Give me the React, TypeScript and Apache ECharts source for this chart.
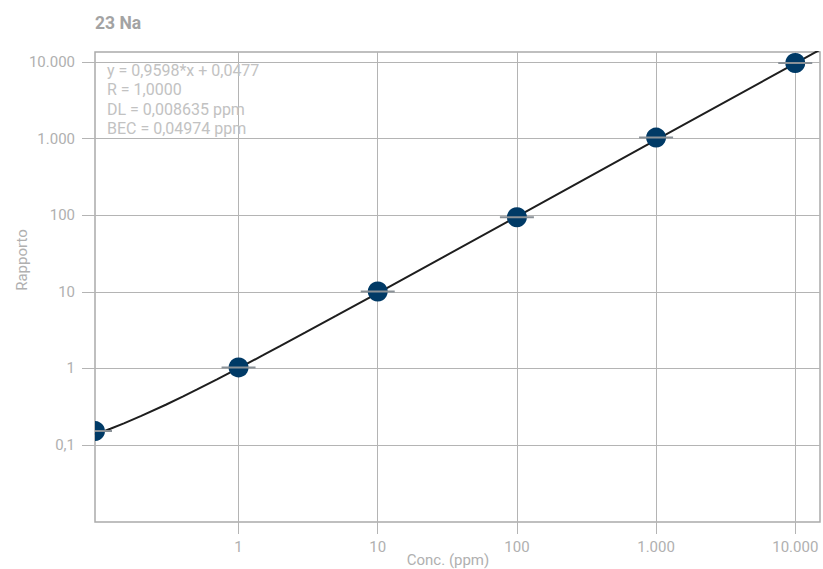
import React, { useEffect, useRef } from 'react';
import * as echarts from 'echarts';

const chartTitle = '23 Na';
const statLines = ['y = 0,9598*x + 0,0477', 'R = 1,0000', 'DL = 0,008635 ppm', 'BEC = 0,04974 ppm'];
const xAxisName = 'Conc. (ppm)';
const yAxisName = 'Rapporto';
const xTicks = [1, 10, 100, 1000, 10000];
const yTicks = [0.1, 1, 10, 100, 1000, 10000];
const xRange = [0.093, 15060];
const yRange = [0.0099, 13500];

// calibration standards (blank plotted at the axis minimum)
const conc = [0.093, 1, 10, 100, 1000, 10000];
const ratio = [0.152, 1.03, 10.1, 94, 1030, 9700];

// calibration curve y = 0,9598*x + 0,0477 sampled points
const curveX = [0.093, 0.12, 0.15, 0.2, 0.3, 0.4, 0.5, 0.7, 1, 1.5, 2, 3, 5, 10, 30, 100, 1000, 10000, 15060];
const curveY = [0.137, 0.163, 0.192, 0.24, 0.336, 0.432, 0.528, 0.72, 1.008, 1.487, 1.967, 2.927, 4.847, 9.646, 28.84, 96.03, 959.8, 9598, 14455];

const fmt = (v: number) => {
  if (v >= 1) return String(Math.round(v)).replace(/\B(?=(\d{3})+(?!\d))/g, '.');
  return String(v).replace('.', ',');
};

export default function App() {
  const ref = useRef<HTMLDivElement>(null);
  useEffect(() => {
    if (!ref.current) return;
    const chart = echarts.init(ref.current, undefined, { renderer: 'svg' });
    const labelColor = '#b0b0b0';
    const gridColor = '#b4b4b4';
    chart.setOption({
      animation: false,
      textStyle: { fontFamily: 'Roboto' },
      title: {
        text: chartTitle,
        left: 90,
        top: 9,
        textStyle: { fontSize: 17.5, fontWeight: 'bold', color: '#a3a3a3', fontFamily: 'Roboto' },
      },
      grid: { left: 95, right: 3, top: 52, bottom: 47, show: true, borderColor: '#aaaaaa', borderWidth: 1.5 },
      xAxis: {
        type: 'log',
        logBase: 10,
        min: xRange[0],
        max: xRange[1],
        axisLine: { show: false },
        axisTick: { show: true, length: 12, customValues: xTicks, lineStyle: { color: gridColor } },
        axisLabel: { customValues: xTicks, formatter: (v: number) => fmt(v), color: labelColor, fontSize: 15, margin: 17, fontFamily: 'Roboto' },
        splitLine: { show: true, lineStyle: { color: gridColor, width: 1 } },
      },
      yAxis: {
        type: 'log',
        logBase: 10,
        min: yRange[0],
        max: yRange[1],
        axisLine: { show: false },
        axisTick: { show: true, length: 13, customValues: yTicks, lineStyle: { color: gridColor } },
        axisLabel: { customValues: yTicks, formatter: (v: number) => fmt(v), color: labelColor, fontSize: 15, margin: 20, fontFamily: 'Roboto' },
        splitLine: { show: true, lineStyle: { color: gridColor, width: 1 } },
      },
      graphic: [
        {
          type: 'text',
          left: 107,
          top: 61,
          z: 10,
          style: { text: statLines.join('\n'), fill: '#c2c2c2', fontSize: 16, lineHeight: 19.2, fontFamily: 'Roboto' },
        },
        {
          type: 'text',
          x: 448,
          y: 560,
          style: { text: xAxisName, fill: labelColor, fontSize: 15, fontFamily: 'Roboto', textAlign: 'center', textVerticalAlign: 'middle' },
        },
        {
          type: 'text',
          x: 22,
          y: 260,
          rotation: Math.PI / 2,
          style: { text: yAxisName, fill: labelColor, fontSize: 15, fontFamily: 'Roboto', textAlign: 'center', textVerticalAlign: 'middle' },
        },
      ],
      series: [
        {
          type: 'line',
          data: curveX.map((x, i) => [x, curveY[i]]),
          showSymbol: false,
          symbol: 'none',
          lineStyle: { color: '#1e1e1e', width: 2 },
          clip: true,
          z: 2,
        },
        {
          type: 'custom',
          clip: true,
          z: 3,
          data: conc.map((x, i) => [x, ratio[i]]),
          renderItem: (params: any, api: any) => {
            const p = api.coord([api.value(0), api.value(1)]);
            return {
              type: 'group',
              children: [
                { type: 'circle', shape: { cx: p[0], cy: p[1], r: 10 }, style: { fill: '#003a66' } },
                { type: 'line', shape: { x1: p[0] - 17, y1: p[1], x2: p[0] + 17, y2: p[1] }, style: { stroke: '#8a9197', lineWidth: 2 } },
              ],
            };
          },
        },
      ],
    });
    return () => chart.dispose();
  }, []);
  return <div ref={ref} style={{ width: 823, height: 569, position: 'absolute', left: 0, top: 0 }} />;
}
